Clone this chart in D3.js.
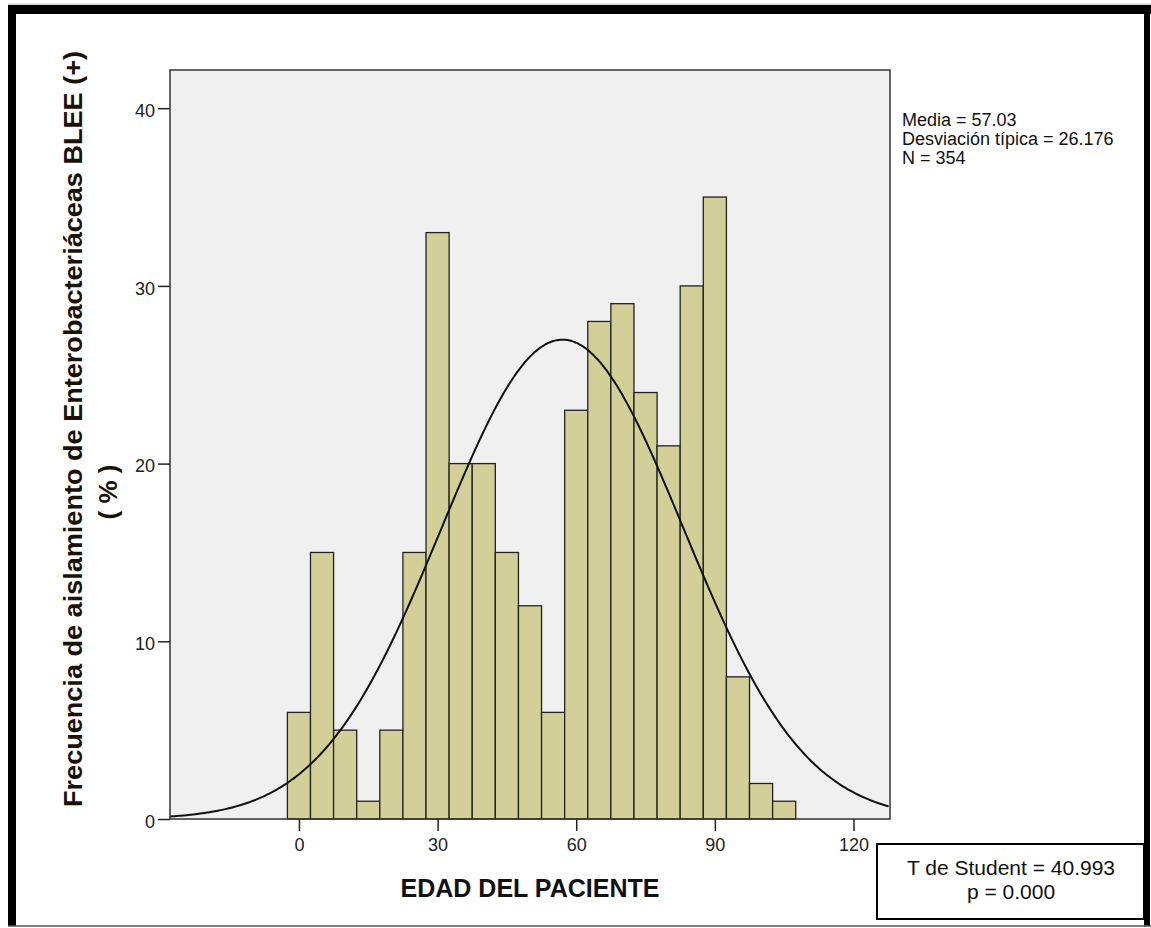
<!DOCTYPE html>
<html>
<head>
<meta charset="utf-8">
<script src="https://cdn.jsdelivr.net/npm/d3@7"></script>
<style>
  html, body { margin: 0; padding: 0; background: #ffffff; }
  svg { display: block; }
  text { font-family: "Liberation Sans", Arial, sans-serif; }
</style>
</head>
<body>
<script>
// ---------- data ----------
const binCenters = [0, 5, 10, 15, 20, 25, 30, 35, 40, 45, 50, 55, 60, 65, 70, 75, 80, 85, 90, 95, 100, 105];
const counts     = [6, 15, 5, 1, 5, 15, 33, 20, 20, 15, 12, 6, 23, 28, 29, 24, 21, 30, 35, 8, 2, 1];
const binWidth = 5;
const xTicks = [0, 30, 60, 90, 120];
const yTicks = [0, 10, 20, 30, 40];
const statMean = 57.03, statSd = 26.176, statN = 354;
const statLines = ["Media = 57.03", "Desviación típica = 26.176", "N = 354"];
const testLines = ["T de Student = 40.993", "p = 0.000"];
const xTitle = "EDAD DEL PACIENTE";
const yTitleLines = ["Frecuencia de aislamiento de Enterobacteriáceas BLEE (+)", "( % )"];

// ---------- layout ----------
const W = 1151, H = 928;
const plot = { left: 170, right: 890, top: 70, bottom: 819 };

const svg = d3.select("body").append("svg").attr("width", W).attr("height", H);

// outer frame
svg.append("rect").attr("x", 0).attr("y", 0).attr("width", W).attr("height", H).attr("fill", "#fff");
svg.append("line").attr("x1", 8).attr("x2", W).attr("y1", 4).attr("y2", 4).attr("stroke", "#bbb").attr("stroke-width", 1);
svg.append("rect").attr("x", 8).attr("y", 5).attr("width", W - 8).attr("height", 9).attr("fill", "#000");
svg.append("rect").attr("x", 8).attr("y", 5).attr("width", 8).attr("height", 921).attr("fill", "#000");
svg.append("rect").attr("x", 1144).attr("y", 5).attr("width", 6).attr("height", 921).attr("fill", "#000");
svg.append("line").attr("x1", 8).attr("x2", W).attr("y1", 926).attr("y2", 926).attr("stroke", "#555").attr("stroke-width", 1.5);

// scales
const x = d3.scaleLinear().domain([-27.9, 127.9]).range([plot.left, plot.right]);
const y = d3.scaleLinear().domain([0, 42.15]).range([plot.bottom, plot.top]);

// plot background
svg.append("rect")
  .attr("x", plot.left).attr("y", plot.top)
  .attr("width", plot.right - plot.left).attr("height", plot.bottom - plot.top)
  .attr("fill", "#f0f0f0");

// bars
svg.append("g").selectAll("rect").data(binCenters).join("rect")
  .attr("x", (d) => x(d - binWidth / 2))
  .attr("width", (d) => x(d + binWidth / 2) - x(d - binWidth / 2))
  .attr("y", (d, i) => y(counts[i]))
  .attr("height", (d, i) => y(0) - y(counts[i]))
  .attr("fill", "#d3cf98")
  .attr("stroke", "#222")
  .attr("stroke-width", 1.3);

// normal curve from the displayed statistics
const curveXs = d3.range(x.domain()[0], x.domain()[1] + 0.01, 0.5);
const pdfScale = statN * binWidth / (statSd * Math.sqrt(2 * Math.PI));
const curvePts = curveXs.map((v) => [v, pdfScale * Math.exp(-0.5 * Math.pow((v - statMean) / statSd, 2))]);
svg.append("path")
  .datum(curvePts)
  .attr("fill", "none")
  .attr("stroke", "#111")
  .attr("stroke-width", 2)
  .attr("d", d3.line().x((d) => x(d[0])).y((d) => y(d[1])).curve(d3.curveBasis));

// plot frame
svg.append("rect")
  .attr("x", plot.left).attr("y", plot.top)
  .attr("width", plot.right - plot.left).attr("height", plot.bottom - plot.top)
  .attr("fill", "none").attr("stroke", "#333").attr("stroke-width", 1.5);

// axes
const gx = svg.append("g").attr("transform", `translate(0,${plot.bottom})`)
  .call(d3.axisBottom(x).tickValues(xTicks).tickSize(12).tickSizeOuter(0).tickPadding(7));
const gy = svg.append("g").attr("transform", `translate(${plot.left},0)`)
  .call(d3.axisLeft(y).tickValues(yTicks).tickSize(12).tickSizeOuter(0).tickPadding(3));
[gx, gy].forEach((g) => {
  g.select(".domain").remove();
  g.selectAll(".tick line").attr("stroke", "#222").attr("stroke-width", 1.5);
  g.selectAll(".tick text").attr("fill", "#222").style("font-size", "18px")
    .style("font-family", '"Liberation Sans", Arial, sans-serif');
});
gy.selectAll(".tick text").attr("dy", "0.45em");

// x title
svg.append("text")
  .attr("x", (plot.left + plot.right) / 2).attr("y", 897)
  .attr("text-anchor", "middle")
  .attr("font-weight", "bold").attr("font-size", 25)
  .attr("fill", "#111")
  .text(xTitle);

// y title (two lines, rotated)
svg.append("text")
  .attr("transform", "translate(82,429) rotate(-90)")
  .attr("text-anchor", "middle")
  .attr("font-weight", "bold").attr("font-size", 26)
  .attr("fill", "#1a1208")
  .attr("textLength", 756).attr("lengthAdjust", "spacingAndGlyphs")
  .text(yTitleLines[0]);
svg.append("text")
  .attr("transform", "translate(117,492) rotate(-90)")
  .attr("text-anchor", "middle")
  .attr("font-weight", "bold").attr("font-size", 26)
  .attr("fill", "#1a1208")
  .text(yTitleLines[1]);

// stats text
svg.append("g").selectAll("text").data(statLines).join("text")
  .attr("x", 902).attr("y", (d, i) => 126 + i * 19)
  .attr("font-size", 18).attr("fill", "#111")
  .text((d) => d);

// T de Student box
svg.append("rect")
  .attr("x", 877).attr("y", 844).attr("width", 267).attr("height", 75)
  .attr("fill", "#fff").attr("stroke", "#000").attr("stroke-width", 2);
svg.append("g").selectAll("text").data(testLines).join("text")
  .attr("x", 1011).attr("y", (d, i) => 875 + i * 24)
  .attr("text-anchor", "middle")
  .attr("font-size", 21).attr("fill", "#111")
  .text((d) => d);
</script>
</body>
</html>
